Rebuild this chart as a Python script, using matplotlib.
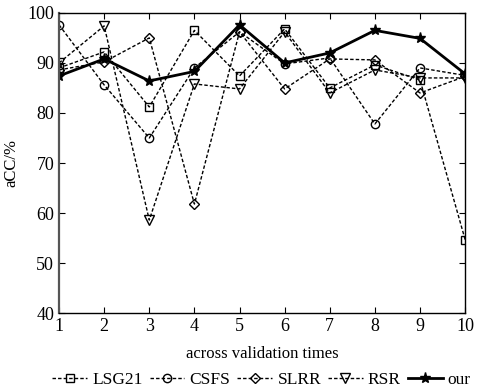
import matplotlib
matplotlib.use("Agg")
import matplotlib.pyplot as plt

plt.rcParams['font.family'] = ['Liberation Serif', 'DejaVu Serif']

times = [1, 2, 3, 4, 5, 6, 7, 8, 9, 10]
lsg21 = [89.0, 92.2, 81.2, 96.5, 87.4, 96.8, 85.0, 89.6, 86.6, 54.7]
csfs = [97.6, 85.6, 75.0, 89.0, 96.2, 89.8, 91.0, 77.8, 89.0, 87.5]
slrr = [88.6, 90.2, 95.0, 61.8, 96.2, 84.8, 90.8, 90.6, 84.0, 87.3]
rsr = [90.0, 97.4, 58.6, 85.8, 84.8, 96.2, 84.0, 88.6, 87.0, 87.0]
our = [87.4, 90.8, 86.4, 88.3, 97.6, 90.0, 92.0, 96.5, 94.9, 87.8]

xticks = [1, 2, 3, 4, 5, 6, 7, 8, 9, 10]
yticks = [40, 50, 60, 70, 80, 90, 100]

fig = plt.figure(figsize=(4.8, 3.9), dpi=100)
ax = fig.add_axes([0.123, 0.197, 0.846, 0.770])

ms = 6
dash = (2.5, 1.5)
ax.plot(times, lsg21, ls='--', dashes=dash, color='black', lw=1, marker='s', ms=ms, mfc='none', mec='black', label='LSG21')
ax.plot(times, csfs, ls='--', dashes=dash, color='black', lw=1, marker='o', ms=ms, mfc='none', mec='black', label='CSFS')
ax.plot(times, slrr, ls='--', dashes=dash, color='black', lw=1, marker='D', ms=5, mfc='none', mec='black', label='SLRR')
ax.plot(times, rsr, ls='--', dashes=dash, color='black', lw=1, marker='v', ms=7, mfc='none', mec='black', label='RSR')
ax.plot(times, our, ls='-', color='black', lw=2, marker='*', ms=8, mfc='black', mec='black', label='our')

ax.set_xlim(1, 10)
ax.set_ylim(40, 100)
ax.set_xticks(xticks)
ax.set_yticks(yticks)
ax.tick_params(direction='in', top=True, right=True, labelsize=13, length=4, width=0.8)
for s in ax.spines.values():
    s.set_linewidth(1.0)
ax.spines['left'].set_linewidth(1.6)
ax.spines['left'].set_color('#555555')

ax.set_xlabel('across validation times', fontsize=12, labelpad=8)
ax.set_ylabel('aCC/%', fontsize=12, labelpad=6)

fig.legend(loc='lower center', bbox_to_anchor=(0.545, -0.035), ncol=5, frameon=False,
           fontsize=12.5, handlelength=2.0, columnspacing=0.4, handletextpad=0.3)

fig.savefig('out.png', dpi=100)
